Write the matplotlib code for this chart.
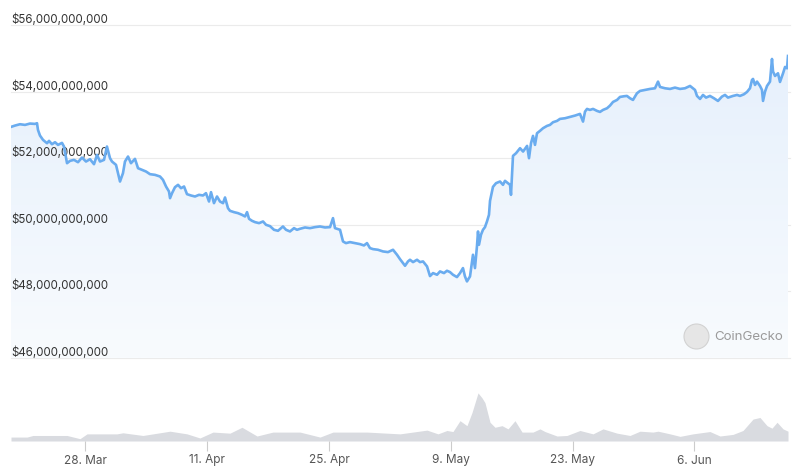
import numpy as np
import pandas as pd
import matplotlib
matplotlib.use('Agg')
import matplotlib.pyplot as plt
import matplotlib.dates as mdates
import matplotlib.transforms as mtransforms
from matplotlib.patches import Polygon

plt.rcParams['font.family'] = ['Inter', 'DejaVu Sans']

# market cap readings, days since 19 Mar 10:30, values in billions USD
cap_days = [
    0.00, 0.46, 1.03, 1.61, 2.18, 2.76, 2.99, 3.10, 3.33, 3.68, 4.14, 4.37, 4.71, 5.06, 5.40, 5.86,
    6.09, 6.44, 6.78, 7.24, 7.70, 8.16, 8.62, 9.08, 9.54, 9.89, 10.23, 10.69, 11.03, 11.38, 11.61,
    12.07, 12.53, 12.87, 13.10, 13.45, 13.79, 14.25, 14.60, 15.06, 15.52, 15.98, 16.55, 17.13, 17.47,
    17.82, 18.16, 18.28, 18.51, 18.85, 19.20, 19.54, 19.89, 20.23, 20.69, 21.15, 21.61, 22.07, 22.41,
    22.76, 22.99, 23.33, 23.68, 24.02, 24.37, 24.60, 24.94, 25.17, 25.63, 26.09, 26.55, 26.90, 27.13,
    27.36, 27.70, 28.05, 28.51, 28.97, 29.31, 29.77, 30.23, 30.69, 31.03, 31.26, 31.61, 32.07, 32.53,
    32.87, 33.22, 33.79, 34.37, 34.94, 35.52, 36.09, 36.67, 37.01, 37.24, 37.82, 38.16, 38.50, 38.96,
    39.54, 40.11, 40.57, 40.92, 41.26, 41.61, 42.18, 42.76, 43.33, 43.91, 44.37, 44.71, 45.06, 45.29,
    45.63, 45.86, 46.21, 46.67, 47.01, 47.36, 47.82, 48.16, 48.51, 48.97, 49.31, 49.77, 50.11, 50.46,
    50.80, 51.26, 51.61, 51.95, 52.18, 52.41, 52.76, 52.99, 53.10, 53.33, 53.56, 53.68, 53.79, 54.02,
    54.25, 54.48, 54.71, 54.94, 55.06, 55.29, 55.40, 55.75, 56.21, 56.55, 56.78, 57.13, 57.36, 57.47,
    57.59, 57.70, 58.05, 58.51, 58.86, 59.32, 59.54, 59.77, 60.00, 60.23, 60.46, 60.80, 61.15, 61.61,
    61.95, 62.30, 62.76, 63.10, 63.68, 64.25, 64.83, 65.40, 65.75, 65.98, 66.21, 66.55, 66.90, 67.36,
    67.70, 68.05, 68.51, 68.85, 69.20, 69.66, 70.00, 70.46, 70.80, 71.15, 71.49, 71.95, 72.30, 72.87,
    73.45, 74.02, 74.37, 74.60, 75.17, 75.75, 76.32, 76.90, 77.47, 78.05, 78.39, 78.62, 78.85, 79.20,
    79.54, 79.89, 80.34, 80.80, 81.26, 81.72, 82.07, 82.41, 82.99, 83.45, 83.79, 84.25, 84.60, 84.94,
    85.17, 85.29, 85.52, 85.75, 86.09, 86.32, 86.44, 86.67, 86.90, 87.24, 87.47, 87.59, 87.82, 88.16,
    88.39, 88.74, 88.97, 89.20, 89.31,
]
cap_values = [
    52.94, 52.98, 53.02, 53.00, 53.04, 53.03, 53.05, 52.85, 52.68, 52.55, 52.45, 52.52, 52.42, 52.48, 52.40, 52.46,
    52.35, 51.85, 51.92, 51.95, 51.88, 52.02, 51.90, 51.97, 51.82, 52.10, 51.90, 51.95, 52.35, 52.00, 51.90,
    51.80, 51.30, 51.55, 51.90, 52.05, 51.85, 51.98, 51.70, 51.65, 51.60, 51.52, 51.50, 51.45, 51.35,
    51.15, 51.00, 50.80, 50.95, 51.13, 51.20, 51.10, 51.15, 50.92, 50.88, 50.85, 50.90, 50.88, 50.95,
    50.70, 50.98, 50.65, 50.85, 50.70, 50.65, 50.82, 50.50, 50.42, 50.38, 50.35, 50.30, 50.25, 50.38,
    50.18, 50.12, 50.08, 50.05, 50.10, 50.00, 49.96, 49.85, 49.82, 49.90, 49.95, 49.85, 49.80, 49.90,
    49.85, 49.88, 49.92, 49.90, 49.93, 49.95, 49.92, 49.93, 50.20, 49.90, 49.85, 49.50, 49.45, 49.48,
    49.45, 49.42, 49.38, 49.45, 49.30, 49.27, 49.25, 49.20, 49.18, 49.25, 49.10, 48.97, 48.85, 48.77,
    48.90, 48.95, 48.88, 48.95, 48.88, 48.90, 48.75, 48.46, 48.55, 48.50, 48.60, 48.55, 48.62, 48.58,
    48.50, 48.43, 48.55, 48.70, 48.45, 48.30, 48.45, 48.90, 49.10, 48.70, 49.36, 49.80, 49.40, 49.70,
    49.85, 49.93, 50.10, 50.30, 50.72, 51.00, 51.14, 51.25, 51.30, 51.20, 51.32, 51.25, 51.20, 50.90,
    51.50, 52.07, 52.15, 52.30, 52.20, 52.37, 52.00, 52.45, 52.67, 52.40, 52.75, 52.82, 52.90, 52.97,
    53.00, 53.08, 53.12, 53.18, 53.20, 53.24, 53.28, 53.33, 53.10, 53.40, 53.48, 53.45, 53.48, 53.42,
    53.39, 53.45, 53.50, 53.58, 53.69, 53.75, 53.84, 53.86, 53.87, 53.80, 53.75, 53.95, 54.02, 54.05,
    54.08, 54.10, 54.30, 54.14, 54.10, 54.08, 54.12, 54.08, 54.10, 54.17, 54.10, 54.05, 53.87, 53.78,
    53.90, 53.82, 53.87, 53.80, 53.72, 53.85, 53.90, 53.82, 53.87, 53.90, 53.87, 53.92, 53.99, 54.10,
    54.35, 54.38, 54.20, 54.30, 54.17, 54.05, 53.72, 54.00, 54.17, 54.30, 54.98, 54.60, 54.47, 54.55,
    54.29, 54.55, 54.74, 54.70, 55.07,
]

# volume readings, billions USD
vol_days = [
    0.00, 1.84, 2.53, 6.44, 7.93, 8.74, 12.18, 12.87, 15.17, 18.28, 20.23, 21.72, 23.22, 25.17, 26.55,
    28.28, 30.11, 33.22, 35.52, 37.01, 40.92, 44.71, 47.82, 49.08, 50.11, 50.80, 51.61, 52.41, 52.99,
    53.68, 54.14, 54.48, 55.06, 55.63, 56.44, 57.13, 57.93, 58.74, 60.00, 60.80, 61.38, 62.76, 63.91,
    65.40, 66.90, 68.05, 69.66, 71.15, 72.30, 73.79, 74.37, 75.75, 76.90, 78.39, 80.34, 81.49, 82.99,
    84.14, 85.29, 86.09, 86.90, 87.47, 88.05, 88.74, 89.31,
]
vol_values = [
    2.2, 2.2, 3.1, 3.1, 1.3, 4.0, 4.0, 4.6, 3.1, 5.5, 4.0, 1.7, 5.0, 4.4, 7.7,
    2.8, 5.0, 5.0, 2.2, 5.0, 5.0, 4.0, 6.1, 4.0, 5.9, 5.3, 11.4, 8.6, 16.0,
    27.0, 24.2, 21.5, 10.5, 7.7, 8.6, 6.8, 11.4, 5.0, 5.0, 6.8, 5.3, 2.8, 3.1,
    5.9, 4.0, 6.8, 4.4, 3.1, 5.5, 5.0, 5.5, 4.0, 2.6, 4.0, 5.3, 2.8, 3.7,
    5.9, 12.3, 13.2, 8.6, 7.2, 10.5, 6.8, 5.5,
]

y_ticks = [46, 48, 50, 52, 54, 56]
x_tick_dates = ['2022-03-28', '2022-04-11', '2022-04-25', '2022-05-09', '2022-05-23', '2022-06-06']
x_tick_labels = ['28. Mar', '11. Apr', '25. Apr', '9. May', '23. May', '6. Jun']

start = pd.Timestamp('2022-03-19 10:30')
cap_t = mdates.date2num(start + pd.to_timedelta(cap_days, unit='D'))
vol_t = mdates.date2num(start + pd.to_timedelta(vol_days, unit='D'))
tick_t = mdates.date2num(pd.to_datetime(x_tick_dates))

fig = plt.figure(figsize=(8.09, 4.77), dpi=100)
fig.patch.set_facecolor('white')

W, H = 809, 477
left, right = 11 / W, 788 / W
ax = fig.add_axes([left, 1 - 359 / H, right - left, (359 - 26) / H])
vax = fig.add_axes([left, 1 - 442 / H, right - left, 49 / H])

xmin, xmax = cap_t[0], cap_t[-1]

for a in (ax, vax):
    a.set_xlim(xmin, xmax)
    for s in a.spines.values():
        s.set_visible(False)
    a.set_facecolor('none')

# price pane
ax.set_ylim(46, 56)
ax.set_yticks([])
ax.set_xticks([])
trans = mtransforms.blended_transform_factory(ax.transAxes, ax.transData)
for v in y_ticks:
    ax.axhline(v, color='#ebebeb', lw=0.8, zorder=0, xmax=1.002, clip_on=False)
    ax.text(0, v, '$' + f'{v * 1_000_000_000:,.0f}', transform=trans,
            fontsize=8.3, color='#333333', va='bottom', ha='left', zorder=1)

# gradient fill under the line
verts = np.column_stack([np.r_[cap_t, cap_t[-1], cap_t[0]], np.r_[cap_values, 46, 46]])
poly = Polygon(verts, closed=True, facecolor='none', edgecolor='none')
ax.add_patch(poly)
grad = np.linspace(0, 1, 256).reshape(-1, 1)
cmap = matplotlib.colors.LinearSegmentedColormap.from_list('g', ['#f8fbfe', '#e6f0fc'])
img = ax.imshow(grad, extent=[xmin, xmax, 46, 55.2], origin='lower', aspect='auto',
                cmap=cmap, zorder=0.5)
img.set_clip_path(poly)

ax.plot(cap_t, cap_values, color='#6aacef', lw=1.9, zorder=3, solid_joinstyle='round')

# watermark
ax.plot([0.882], [0.066], 'o', transform=ax.transAxes, ms=18, mfc='#e6e6e6',
        mec='#d2d2d2', mew=0.8, zorder=2)
ax.text(0.905, 0.066, 'CoinGecko', transform=ax.transAxes, fontsize=9.6, color='#9a9a9a',
        va='center', ha='left', zorder=2)

# volume pane
vax.set_ylim(0, 27.5)
vax.set_yticks([])
vax.fill_between(vol_t, vol_values, 0, color='#d9dbe0', lw=0)
vax.set_xticks(tick_t)
vax.set_xticklabels(x_tick_labels)
vax.tick_params(axis='x', length=7, width=0.8, color='#cccccc', labelcolor='#555555',
                labelsize=8.5, pad=2)

fig.savefig('out.png', dpi=100)
